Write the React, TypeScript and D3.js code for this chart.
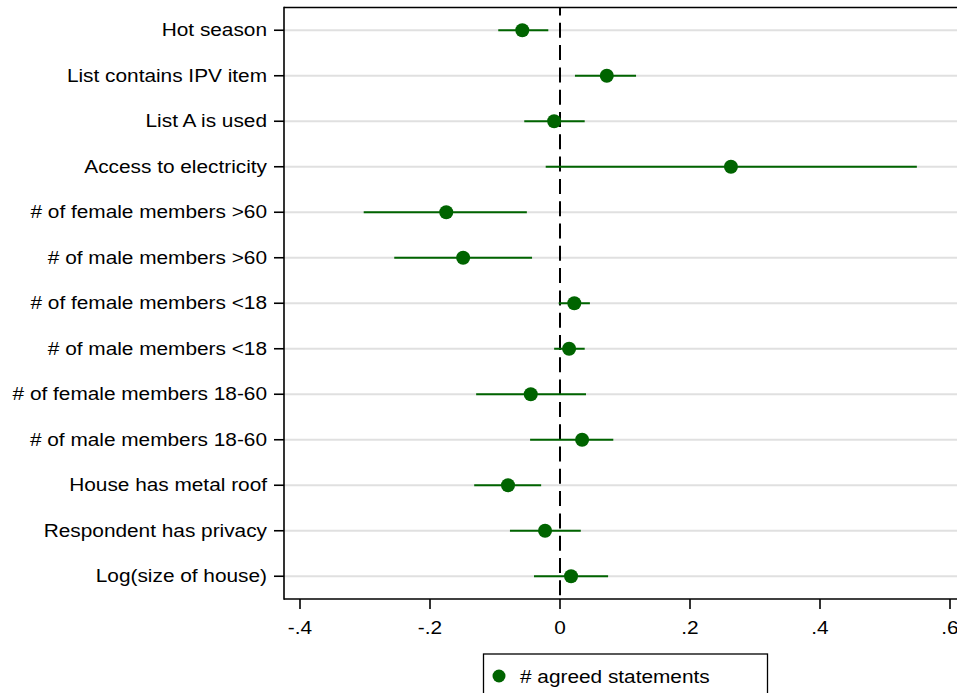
import React from "react";
import * as d3 from "d3";

const categories = [
  "Hot season",
  "List contains IPV item",
  "List A is used",
  "Access to electricity",
  "# of female members >60",
  "# of male members >60",
  "# of female members <18",
  "# of male members <18",
  "# of female members 18-60",
  "# of male members 18-60",
  "House has metal roof",
  "Respondent has privacy",
  "Log(size of house)",
];
const estimates = [-0.058, 0.072, -0.009, 0.263, -0.175, -0.149, 0.022, 0.014, -0.045, 0.034, -0.080, -0.023, 0.017];
const lower = [-0.095, 0.023, -0.055, -0.022, -0.302, -0.255, -0.002, -0.009, -0.129, -0.046, -0.132, -0.077, -0.040];
const upper = [-0.018, 0.117, 0.038, 0.549, -0.051, -0.043, 0.046, 0.038, 0.040, 0.082, -0.029, 0.032, 0.074];
const xTicks = [-0.4, -0.2, 0, 0.2, 0.4, 0.6];
const xTickLabels = ["-.4", "-.2", "0", ".2", ".4", ".6"];
const legendLabel = "# agreed statements";

const W = 957;
const H = 693;
const left = 284;
const top = 7.5;
const bottom = 599;
const green = "#006400";
const font = "'Liberation Sans', Arial, sans-serif";
const SX = 1.19;

function T({ x, y, anchor, children }: { x: number; y: number; anchor: string; children: React.ReactNode }) {
  return (
    <g transform={`translate(${x},${y}) scale(${SX},1)`}>
      <text x={0} y={0} textAnchor={anchor} fontSize={17.5} fill="#000">
        {children}
      </text>
    </g>
  );
}

export default function App() {
  const x = d3.scaleLinear().domain([-0.4, 0.6]).range([300, 950]);
  const y = d3.scalePoint<string>().domain(categories).range([top, bottom]).padding(0.5);

  return (
    <svg width={W} height={H} style={{ position: "absolute", left: 0, top: 0, background: "#fff" }} fontFamily={font}>
      {categories.map((c) => (
        <line key={"g" + c} x1={left} x2={W} y1={y(c)} y2={y(c)} stroke="#e0e0e0" strokeWidth={2} />
      ))}
      <line x1={x(0)} x2={x(0)} y1={top} y2={bottom} stroke="#000" strokeWidth={2} strokeDasharray="15,7.3" strokeDashoffset={7} />
      {categories.map((c, i) => (
        <line key={"ci" + c} x1={x(lower[i])} x2={x(upper[i])} y1={y(c)} y2={y(c)} stroke={green} strokeWidth={2} />
      ))}
      {categories.map((c, i) => (
        <circle key={"p" + c} cx={x(estimates[i])} cy={y(c)} r={7} fill={green} />
      ))}
      <line x1={left} x2={W} y1={top} y2={top} stroke="#000" strokeWidth={1.6} />
      <line x1={left} x2={left} y1={top - 0.8} y2={bottom + 0.8} stroke="#000" strokeWidth={1.6} />
      <line x1={left} x2={W} y1={bottom} y2={bottom} stroke="#000" strokeWidth={1.6} />
      {categories.map((c) => (
        <g key={"yl" + c}>
          <line x1={left - 10} x2={left} y1={y(c)} y2={y(c)} stroke="#000" strokeWidth={1.6} />
          <T x={267} y={y(c)! + 6.2} anchor="end">{c}</T>
        </g>
      ))}
      {xTicks.map((t, i) => (
        <g key={"xt" + t}>
          <line x1={x(t)} x2={x(t)} y1={bottom} y2={bottom + 10} stroke="#000" strokeWidth={1.6} />
          <T x={x(t)} y={634} anchor="middle">{xTickLabels[i]}</T>
        </g>
      ))}
      <rect x={483.5} y={654} width={284} height={50} fill="#fff" stroke="#000" strokeWidth={1.3} />
      <circle cx={499} cy={676} r={6.5} fill={green} />
      <T x={520} y={682.5} anchor="start">{legendLabel}</T>
    </svg>
  );
}
